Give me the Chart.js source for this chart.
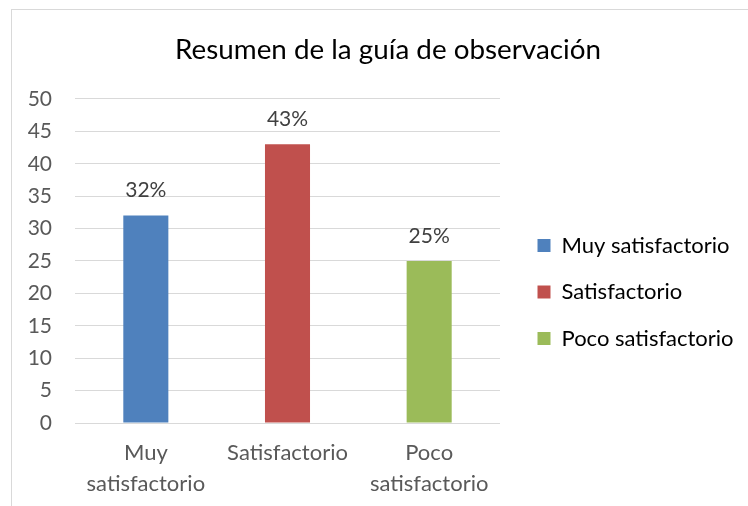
<!DOCTYPE html>
<html>
<head>
<meta charset="utf-8">
<script src="https://cdn.jsdelivr.net/npm/chart.js@4"></script>
<style>
  html, body { margin: 0; padding: 0; background: #fff; }
  #wrap { position: relative; width: 748px; height: 506px; }
  #frame { position: absolute; left: 11px; top: 9px; width: 760px; height: 520px;
           border: 1px solid #d9d9d9; box-sizing: border-box; pointer-events: none; }
</style>
</head>
<body>
<div id="wrap">
  <canvas id="myChart" width="748" height="506"></canvas>
  <div id="frame"></div>
</div>
<script>
const categories = [['Muy', 'satisfactorio'], 'Satisfactorio', ['Poco', 'satisfactorio']];
const legendNames = ['Muy satisfactorio', 'Satisfactorio', 'Poco satisfactorio'];
const values = [32, 43, 25];
const barColors = ['#4f81bd', '#c0504d', '#9bbb59'];
const yTicks = [0, 5, 10, 15, 20, 25, 30, 35, 40, 45, 50];

const fontFamily = 'Lato, "Open Sans", sans-serif';

// etiquetas de porcentaje encima de cada barra
const barLabels = {
    id: 'barLabels',
    afterDatasetsDraw(chart) {
        const ctx = chart.ctx;
        const meta = chart.getDatasetMeta(0);
        ctx.save();
        ctx.font = '21px ' + fontFamily;
        ctx.fillStyle = '#404040';
        ctx.textAlign = 'center';
        ctx.textBaseline = 'middle';
        meta.data.forEach((bar, i) => {
            ctx.fillText(values[i] + '%', bar.x, bar.y - 25);
        });
        ctx.restore();
    }
};

// la leyenda ocupa un ancho fijo a la derecha y se desplaza un poco
const legendPlace = {
    id: 'legendPlace',
    beforeInit(chart) {
        const lg = chart.legend;
        if (lg && !lg._fixed) {
            const fit = lg.fit.bind(lg);
            lg.fit = function () { fit(); this.width = 248; };
            lg._fixed = true;
        }
    },
    afterLayout(chart) {
        const lg = chart.legend;
        lg.left += 13; lg.right += 13;
        lg.top += 39; lg.bottom += 39;
        const tb = chart.titleBlock;
        if (tb) { tb.left += 14; tb.right += 14; }
    }
};

const ctx = document.getElementById('myChart');
const myChart = new Chart(ctx, {
    type: 'bar',
    data: {
        labels: categories,
        datasets: [{
            label: 'Serie',
            data: values,
            backgroundColor: barColors,
            borderWidth: 0,
            categoryPercentage: 1,
            barPercentage: 0.318
        }]
    },
    options: {
        responsive: false,
        animation: false,
        layout: { padding: 0 },
        plugins: {
            title: {
                display: true,
                text: 'Resumen de la guía de observación',
                color: '#000',
                font: { family: fontFamily, size: 27.8, weight: 'normal', lineHeight: 1.2 },
                padding: { top: 33.5, bottom: 32.1 }
            },
            legend: {
                position: 'right',
                align: 'center',
                labels: {
                    boxWidth: 13,
                    boxHeight: 13,
                    padding: 24.5,
                    color: '#595959',
                    font: { family: fontFamily, size: 22 },
                    generateLabels() {
                        return legendNames.map((name, i) => ({
                            text: name,
                            fillStyle: barColors[i],
                            strokeStyle: barColors[i],
                            lineWidth: 0,
                            index: i
                        }));
                    }
                }
            },
            tooltip: { enabled: false }
        },
        scales: {
            x: {
                grid: { display: false },
                border: { display: false },
                ticks: {
                    color: '#595959',
                    font: { family: fontFamily, size: 22, lineHeight: 1.41 },
                    padding: 6,
                    maxRotation: 0,
                    autoSkip: false
                },
                afterFit(scale) { scale.height = 83; }
            },
            y: {
                min: 0,
                max: 50,
                afterBuildTicks(scale) { scale.ticks = yTicks.map(v => ({ value: v })); },
                grid: { color: '#d9d9d9', drawTicks: false },
                border: { display: false },
                ticks: {
                    color: '#595959',
                    font: { family: fontFamily, size: 21 },
                    padding: 23
                },
                afterFit(scale) { scale.width = 75; }
            }
        }
    },
    plugins: [barLabels, legendPlace]
});
</script>
</body>
</html>
